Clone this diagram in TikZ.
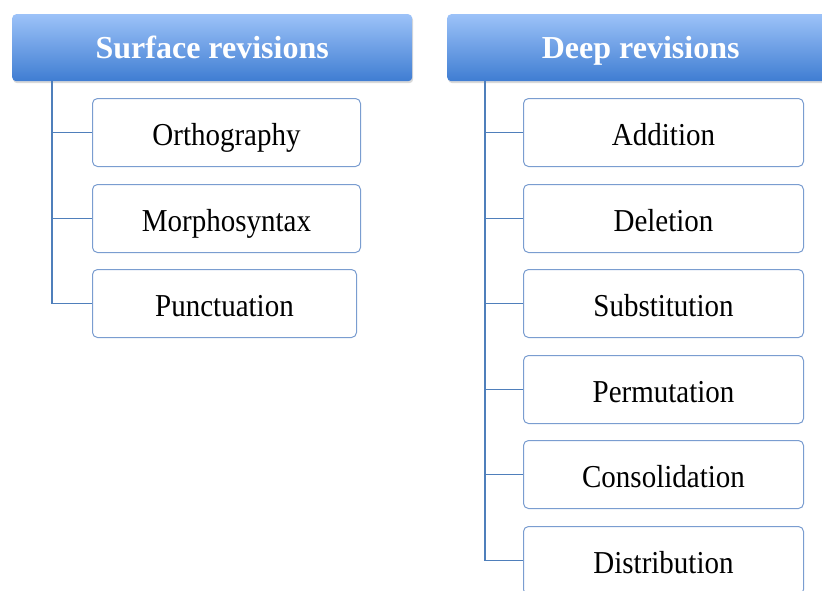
\documentclass[tikz,border=0pt]{standalone}
\usepackage{fontspec}
\setmainfont{Liberation Serif}
\usetikzlibrary{shadows}
\definecolor{headtop}{HTML}{9CC2F8}
\definecolor{headbot}{HTML}{3F7DD2}
\definecolor{trunk}{HTML}{4F7FBB}
\definecolor{boxline}{HTML}{7A9DD0}
% item labels are set slightly taller than wide
\newcommand\tallword[1]{\scalebox{1}[1.1]{#1}}
\tikzset{
  header/.style={rounded corners=4pt, top color=headtop, bottom color=headbot,
    draw=none, text=white, font=\fontsize{32}{38}\selectfont\bfseries,
    minimum height=67pt, inner sep=0pt, text height=22pt, text depth=0pt,
    anchor=north west,
    drop shadow={shadow xshift=1pt, shadow yshift=-2pt, opacity=0.3, fill=black!50}},
  item/.style={rounded corners=5pt, draw=boxline, line width=1pt, fill=white,
    font=\fontsize{29}{34}\selectfont, minimum height=68pt, inner sep=0pt,
    text height=26pt, text depth=0pt, anchor=north west},
  link/.style={draw=trunk, line width=1.2pt}
}
\begin{document}
\begin{tikzpicture}[x=1pt,y=-1pt]
\useasboundingbox (0,0) rectangle (822,590);
\clip (0,0) rectangle (822,590);

% column headers
\node[header, minimum width=400pt] (hs) at (12,14) {Surface revisions};
\node[header, minimum width=387pt] (hd) at (447,14) {Deep revisions};

% trunk starting points under the headers
\coordinate (ts) at (52,81);
\coordinate (td) at (485,81);

% surface revision items
\node[item, minimum width=268pt] (s1) at (92,98)  {\tallword{Orthography}};
\node[item, minimum width=268pt] (s2) at (92,184) {\tallword{Morphosyntax}};
\node[item, minimum width=264pt] (s3) at (92,269) {\tallword{Punctuation}};

% deep revision items
\node[item, minimum width=280pt] (d1) at (523,98)  {\tallword{Addition}};
\node[item, minimum width=280pt] (d2) at (523,184) {\tallword{Deletion}};
\node[item, minimum width=280pt] (d3) at (523,269) {\tallword{Substitution}};
\node[item, minimum width=280pt] (d4) at (523,355) {\tallword{Permutation}};
\node[item, minimum width=280pt] (d5) at (523,440) {\tallword{Consolidation}};
\node[item, minimum width=280pt] (d6) at (523,526) {\tallword{Distribution}};

% connectors
\foreach \n in {s1,s2,s3} \draw[link] (ts) |- (\n.west);
\foreach \n in {d1,d2,d3,d4,d5,d6} \draw[link] (td) |- (\n.west);
\end{tikzpicture}
\end{document}
